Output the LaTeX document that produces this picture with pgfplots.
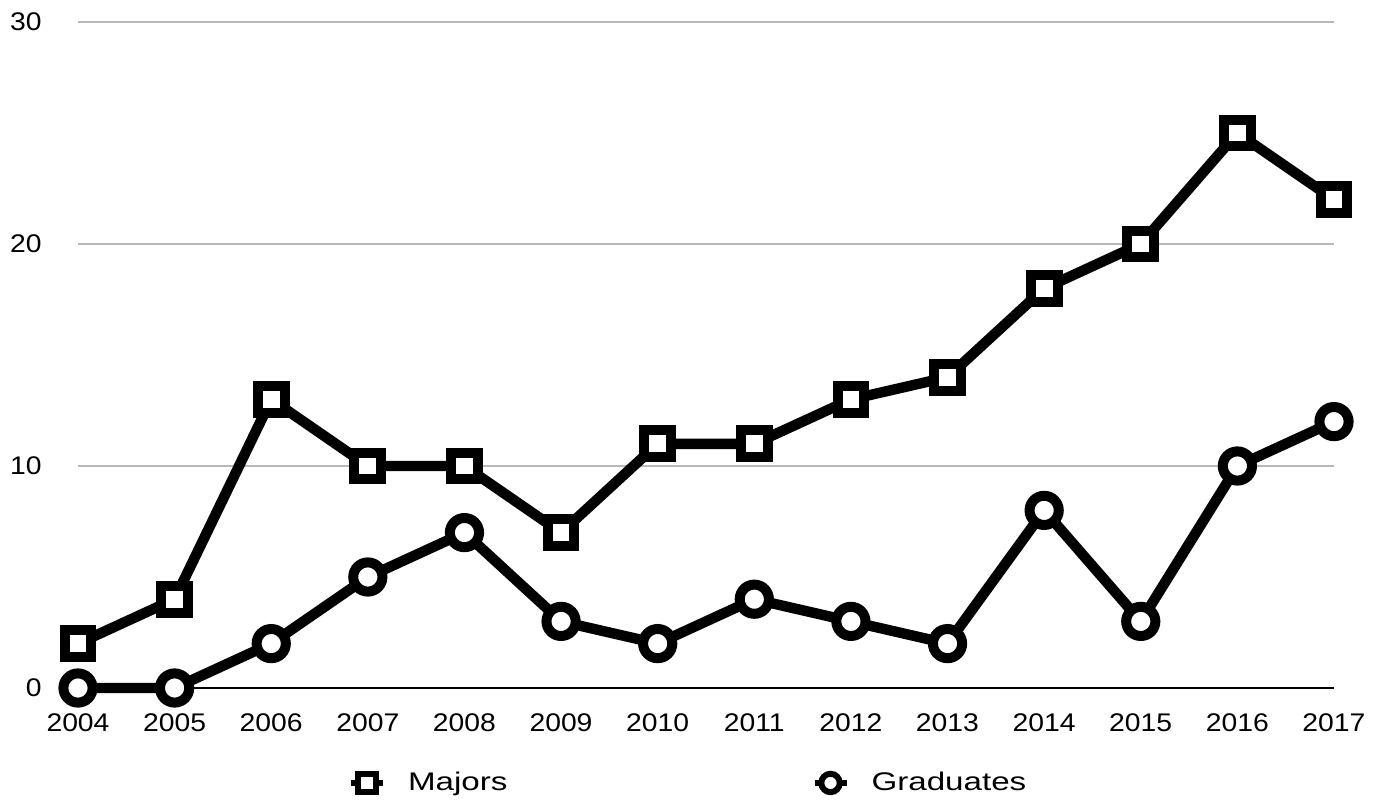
\documentclass[border=0pt]{standalone}
\usepackage{fontspec}
\setmainfont{Liberation Sans}[FakeStretch=1.11]
\newfontfamily\legfont{Liberation Sans}[FakeStretch=1.3]
\usepackage{pgfplots}
\pgfplotsset{compat=1.18}
\definecolor{gridgray}{RGB}{185,185,185}
\begin{document}
\begin{tikzpicture}
\useasboundingbox (-39bp,-57.5bp) rectangle (651bp,344bp);
\begin{axis}[
  at={(0,0)}, anchor=south west,
  scale only axis, width=628bp, height=333bp,
  xmin=2004, xmax=2017, ymin=0, ymax=30,
  xtick={2004,...,2017}, ytick={0,10,20,30},
  x tick label style={/pgf/number format/1000 sep={}},
  /pgf/number format/assume math mode=true,
  ymajorgrids, grid style={gridgray, line width=1bp},
  major tick length=0pt,
  axis lines*=left,
  x axis line style={black, line width=0.75bp, -},
  y axis line style={draw=none},
  ticklabel style={font=\fontsize{12.8}{15}\selectfont, inner sep=0pt},
  y tick label style={anchor=east, xshift=-18bp},
  x tick label style={anchor=north, yshift=-12.5bp},
  clip=false,
  legend columns=2,
  legend style={draw=none, fill=none, at={(0.215,-0.1426)}, anchor=west,
    inner sep=0pt, outer sep=0pt,
    nodes={inner sep=0pt},
    font=\legfont\fontsize{12.8}{15}\selectfont,
    /tikz/every odd column/.append style={column sep=11bp},
    /tikz/every even column/.append style={column sep=152bp}},
  legend image code/.code={
    \draw[#1, line width=3bp, mark repeat=2, mark phase=2,
      mark options={fill=white, draw=black, line width=3bp, mark size=4.6bp}]
      plot coordinates {(0bp,0bp) (8bp,0bp) (16bp,0bp)};
  },
]
\addplot[black, line width=5.2bp, mark=square*, mark size=6.7bp,
  mark options={fill=white, draw=black, line width=5bp}]
  coordinates {(2004,2)(2005,4)(2006,13)(2007,10)(2008,10)(2009,7)(2010,11)
  (2011,11)(2012,13)(2013,14)(2014,18)(2015,20)(2016,25)(2017,22)};
\addlegendentry{Majors}
\addplot[black, line width=5.2bp, mark=*, mark size=7.3bp,
  mark options={fill=white, draw=black, line width=5bp}]
  coordinates {(2004,0)(2005,0)(2006,2)(2007,5)(2008,7)(2009,3)(2010,2)
  (2011,4)(2012,3)(2013,2)(2014,8)(2015,3)(2016,10)(2017,12)};
\addlegendentry{Graduates}
\end{axis}
\end{tikzpicture}
\end{document}
